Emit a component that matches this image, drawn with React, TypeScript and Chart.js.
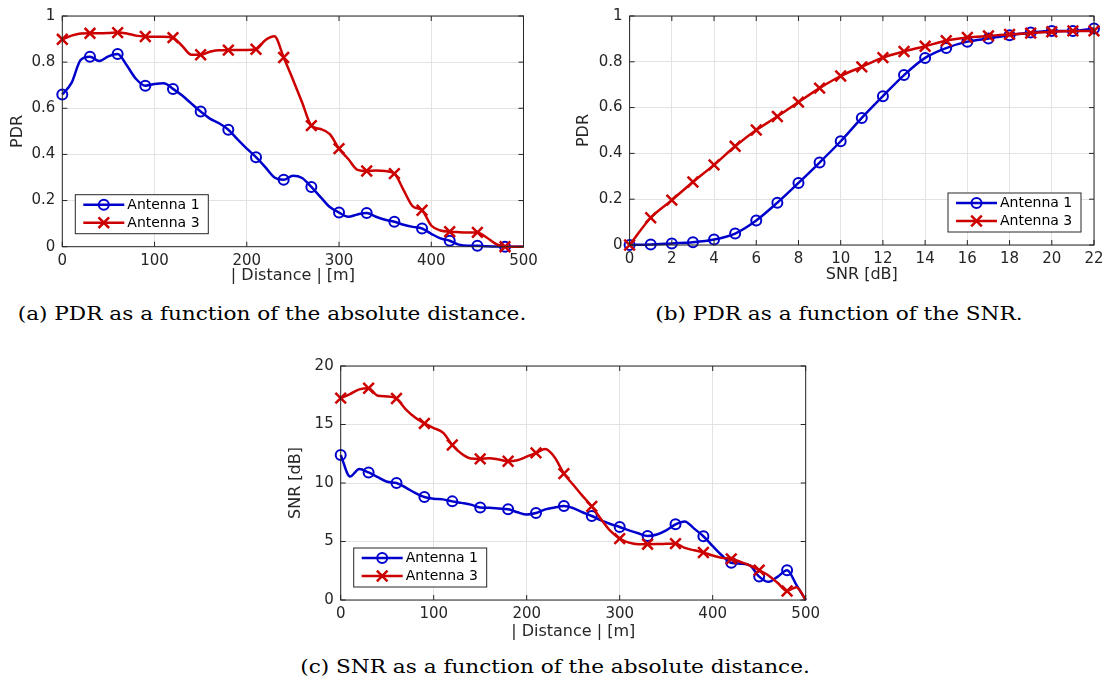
import React, { useEffect, useRef } from 'react';
import { Chart, registerables } from 'chart.js';

Chart.register(...registerables);

const BLUE = '#0000cd';
const RED = '#cc0000';
const AXIS = '#262626';
const GRID = '#e3e3e3';
const SANS = '"DejaVu Sans", sans-serif';

// ---------- data ----------
const distanceM = [0, 10, 20, 30, 40, 50, 60, 70, 80, 90, 100, 110, 120, 130, 140, 150, 160, 170, 180, 190, 200, 210, 220, 230, 240, 250, 260, 270, 280, 290, 300, 310, 320, 330, 340, 350, 360, 370, 380, 390, 400, 410, 420, 430, 440, 450, 460, 470, 480, 490, 500];
const markerDistances = [0, 30, 60, 90, 120, 150, 180, 210, 240, 270, 300, 330, 360, 390, 420, 450, 480];

const pdrDistAnt1 = [0.66, 0.71, 0.81, 0.823, 0.805, 0.825, 0.835, 0.785, 0.727, 0.698, 0.705, 0.708, 0.684, 0.655, 0.62, 0.586, 0.555, 0.535, 0.507, 0.465, 0.425, 0.388, 0.345, 0.3, 0.29, 0.308, 0.298, 0.259, 0.215, 0.172, 0.148, 0.13, 0.14, 0.146, 0.13, 0.117, 0.108, 0.095, 0.086, 0.079, 0.056, 0.036, 0.026, 0.009, 0.004, 0.004, 0.002, 0.001, 0, 0, 0];
const pdrDistAnt3 = [0.899, 0.915, 0.924, 0.925, 0.925, 0.926, 0.928, 0.924, 0.915, 0.911, 0.91, 0.91, 0.906, 0.87, 0.832, 0.832, 0.845, 0.852, 0.852, 0.853, 0.853, 0.856, 0.895, 0.912, 0.82, 0.725, 0.625, 0.525, 0.51, 0.488, 0.425, 0.38, 0.333, 0.328, 0.33, 0.328, 0.317, 0.245, 0.175, 0.158, 0.092, 0.07, 0.065, 0.063, 0.062, 0.062, 0.04, 0.012, 0, 0, 0];

const snrDb = [0, 1, 2, 3, 4, 5, 6, 7, 8, 9, 10, 11, 12, 13, 14, 15, 16, 17, 18, 19, 20, 21, 22];
const pdrSnrAnt1 = [0, 0.002, 0.007, 0.012, 0.024, 0.05, 0.107, 0.185, 0.271, 0.36, 0.453, 0.555, 0.65, 0.742, 0.817, 0.86, 0.888, 0.902, 0.916, 0.928, 0.935, 0.935, 0.945];
const pdrSnrAnt3 = [0, 0.119, 0.196, 0.275, 0.35, 0.431, 0.502, 0.561, 0.624, 0.685, 0.738, 0.778, 0.818, 0.845, 0.868, 0.892, 0.906, 0.913, 0.92, 0.925, 0.931, 0.935, 0.935];

const snrDistAnt1 = [12.4, 10.55, 11.2, 10.9, 10.5, 10.1, 10.0, 9.6, 9.15, 8.8, 8.65, 8.6, 8.43, 8.3, 8.15, 7.9, 7.88, 7.82, 7.75, 7.5, 7.3, 7.43, 7.75, 7.9, 8.03, 7.85, 7.5, 7.18, 6.8, 6.5, 6.24, 5.95, 5.7, 5.47, 5.6, 5.95, 6.47, 6.72, 6.1, 5.45, 4.6, 3.8, 3.18, 3.1, 2.95, 2.0, 1.55, 2.0, 2.55, 1.3, 0];
const snrDistAnt3 = [17.25, 17.6, 18.0, 18.1, 17.45, 17.4, 17.22, 16.3, 15.6, 15.09, 14.7, 14.3, 13.25, 12.5, 12.1, 12.06, 12.12, 12.0, 11.86, 11.95, 12.25, 12.57, 12.9, 12.2, 10.8, 9.85, 8.9, 8.0, 6.9, 5.9, 5.25, 4.9, 4.77, 4.77, 4.78, 4.8, 4.82, 4.45, 4.25, 4.06, 3.8, 3.6, 3.52, 3.25, 2.95, 2.55, 2.1, 1.45, 0.77, 1.1, 0];

const pdrTicks = [0, 0.2, 0.4, 0.6, 0.8, 1];
const distanceTicks = [0, 100, 200, 300, 400, 500];
const snrAxisTicks = [0, 2, 4, 6, 8, 10, 12, 14, 16, 18, 20, 22];
const snrValueTicks = [0, 5, 10, 15, 20];

const seriesNames = ['Antenna 1', 'Antenna 3'];

// ---------- helpers ----------
function drawMarker(ctx: CanvasRenderingContext2D, style: string, x: number, y: number, r: number, color: string, lw: number) {
  ctx.save();
  ctx.strokeStyle = color;
  ctx.lineWidth = lw;
  ctx.beginPath();
  if (style === 'circle') {
    ctx.arc(x, y, r, 0, Math.PI * 2);
  } else {
    const o = r * Math.SQRT1_2;
    ctx.moveTo(x - o, y - o); ctx.lineTo(x + o, y + o);
    ctx.moveTo(x - o, y + o); ctx.lineTo(x + o, y - o);
  }
  ctx.stroke();
  ctx.restore();
}

const matlabPlugin = {
  id: 'matlab',
  afterDatasetsDraw(chart: any) {
    const { ctx, chartArea: a, scales } = chart;
    ctx.save();
    ctx.strokeStyle = AXIS;
    ctx.lineWidth = 1;
    const tl = 5;
    ctx.beginPath();
    scales.x.ticks.forEach((t: any) => {
      const px = scales.x.getPixelForValue(t.value);
      ctx.moveTo(px, a.bottom); ctx.lineTo(px, a.bottom - tl);
      ctx.moveTo(px, a.top); ctx.lineTo(px, a.top + tl);
    });
    scales.y.ticks.forEach((t: any) => {
      const py = scales.y.getPixelForValue(t.value);
      ctx.moveTo(a.left, py); ctx.lineTo(a.left + tl, py);
      ctx.moveTo(a.right, py); ctx.lineTo(a.right - tl, py);
    });
    ctx.stroke();
    ctx.strokeRect(a.left, a.top, a.right - a.left, a.bottom - a.top);
    ctx.restore();
  },
  afterDraw(chart: any, _args: any, opts: any) {
    const { ctx, chartArea: a } = chart;
    const w = 133, h = 39, inset = 13;
    const x = opts.corner === 'br' ? a.right - inset - w : a.left + inset;
    const y = a.bottom - inset - h;
    ctx.save();
    ctx.fillStyle = '#ffffff';
    ctx.fillRect(x, y, w, h);
    ctx.strokeStyle = AXIS;
    ctx.lineWidth = 1;
    ctx.strokeRect(x, y, w, h);
    ctx.font = '14px ' + SANS;
    ctx.textBaseline = 'middle';
    ctx.textAlign = 'left';
    chart.data.datasets.forEach((ds: any, i: number) => {
      const ry = y + 10 + i * 18;
      ctx.strokeStyle = ds.borderColor;
      ctx.lineWidth = ds.borderWidth;
      ctx.beginPath();
      ctx.moveTo(x + 8, ry); ctx.lineTo(x + 49, ry);
      ctx.stroke();
      drawMarker(ctx, ds.pointStyle, x + 28.5, ry, ds.pointStyle === 'circle' ? 5 : 7.5, ds.borderColor, ds.pointBorderWidth);
      ctx.fillStyle = '#000000';
      ctx.fillText(ds.label, x + 52, ry + 0.5);
    });
    ctx.restore();
  },
};

type Area = { l: number; t: number; r: number; b: number };

type PlotProps = {
  left: number; top: number; width: number; height: number;
  area: Area;
  xs: number[]; ys1: number[]; ys3: number[];
  markers: number[] | null;
  xMin: number; xMax: number; xTicks: number[];
  yMin: number; yMax: number; yTicks: number[];
  xTitle: string; yTitle: string;
  yTitlePad: number; xTitlePad: number;
  corner: 'bl' | 'br';
};

function Plot(p: PlotProps) {
  const ref = useRef<HTMLCanvasElement | null>(null);
  useEffect(() => {
    if (!ref.current) return;
    const isMarked = (x: number) => (p.markers ? p.markers.includes(x) : true);
    const mk = (ys: number[], name: string, color: string, style: string, r: number, lw: number, order: number) => ({
      label: name,
      data: p.xs.map((x, i) => ({ x, y: ys[i] })),
      borderColor: color,
      backgroundColor: color,
      borderWidth: 2.5,
      pointStyle: style,
      pointRadius: (c: any) => (c.raw && isMarked(c.raw.x) ? r : 0),
      pointHoverRadius: 0,
      pointBorderColor: color,
      pointBackgroundColor: 'rgba(0,0,0,0)',
      pointBorderWidth: lw,
      cubicInterpolationMode: 'monotone',
      clip: false,
      order,
    });
    const tickFont = { family: SANS, size: 15 };
    const titleFont = { family: SANS, size: 16 };
    const chart = new Chart(ref.current, {
      type: 'line',
      data: {
        datasets: [
          mk(p.ys1, seriesNames[0], BLUE, 'circle', 5, 2, 1),
          mk(p.ys3, seriesNames[1], RED, 'crossRot', 7.5, 2.5, 0),
        ] as any,
      },
      options: {
        responsive: false,
        animation: false,
        events: [],
        layout: { padding: { left: 0, top: p.area.t, right: p.width - p.area.r, bottom: 0 } },
        plugins: {
          legend: { display: false },
          tooltip: { enabled: false },
          matlab: { corner: p.corner },
        } as any,
        scales: {
          x: {
            type: 'linear',
            min: p.xMin, max: p.xMax,
            afterBuildTicks: (s: any) => { s.ticks = p.xTicks.map((v) => ({ value: v })); },
            afterFit: (s: any) => { s.height = p.height - p.area.b; },
            ticks: { font: tickFont, color: AXIS, padding: 5, maxRotation: 0, autoSkip: false, callback: (v: any) => String(v) },
            grid: { color: GRID, drawTicks: false, lineWidth: 1 },
            border: { display: false },
            title: { display: true, text: p.xTitle, font: titleFont, color: AXIS, padding: { top: 0, bottom: p.xTitlePad } },
          },
          y: {
            type: 'linear',
            min: p.yMin, max: p.yMax,
            afterBuildTicks: (s: any) => { s.ticks = p.yTicks.map((v) => ({ value: v })); },
            afterFit: (s: any) => { s.width = p.area.l; },
            ticks: { font: tickFont, color: AXIS, padding: 7, autoSkip: false, callback: (v: any) => String(v) },
            grid: { color: GRID, drawTicks: false, lineWidth: 1 },
            border: { display: false },
            title: { display: true, text: p.yTitle, font: titleFont, color: AXIS, padding: { top: p.yTitlePad, bottom: 0 } },
          },
        },
      } as any,
      plugins: [matlabPlugin as any],
    });
    return () => chart.destroy();
  }, []);
  return (
    <canvas
      ref={ref}
      width={p.width}
      height={p.height}
      style={{ position: 'absolute', left: p.left, top: p.top, width: p.width, height: p.height }}
    />
  );
}

const captionStyle = (cx: number, cy: number): React.CSSProperties => ({
  position: 'absolute',
  left: cx - 400,
  width: 800,
  top: cy - 11,
  height: 22,
  lineHeight: '22px',
  textAlign: 'center',
  fontFamily: '"DejaVu Serif", serif',
  fontSize: 18,
  color: '#000',
  whiteSpace: 'nowrap',
  transform: 'scaleX(1.2)',
  transformOrigin: 'center',
});

export default function App() {
  return (
    <div style={{ position: 'absolute', left: 0, top: 0, width: 1109, height: 682, background: '#fff', overflow: 'hidden' }}>
      <Plot
        left={0} top={0} width={545} height={290}
        area={{ l: 62.3, t: 15, r: 523.5, b: 246.7 }}
        xs={distanceM} ys1={pdrDistAnt1} ys3={pdrDistAnt3} markers={markerDistances}
        xMin={0} xMax={500} xTicks={distanceTicks}
        yMin={0} yMax={1} yTicks={pdrTicks}
        xTitle="| Distance | [m]" yTitle="PDR" yTitlePad={8} xTitlePad={5}
        corner="bl"
      />
      <Plot
        left={560} top={0} width={549} height={290}
        area={{ l: 69.6, t: 11.7, r: 534, b: 245 }}
        xs={snrDb} ys1={pdrSnrAnt1} ys3={pdrSnrAnt3} markers={null}
        xMin={0} xMax={22} xTicks={snrAxisTicks}
        yMin={0} yMax={1} yTicks={pdrTicks}
        xTitle="SNR [dB]" yTitle="PDR" yTitlePad={14} xTitlePad={6}
        corner="br"
      />
      <Plot
        left={280} top={350} width={545} height={295}
        area={{ l: 60.7, t: 15, r: 526, b: 250 }}
        xs={distanceM} ys1={snrDistAnt1} ys3={snrDistAnt3} markers={markerDistances}
        xMin={0} xMax={500} xTicks={distanceTicks}
        yMin={0} yMax={20} yTicks={snrValueTicks}
        xTitle="| Distance | [m]" yTitle="SNR [dB]" yTitlePad={6.5} xTitlePad={3.5}
        corner="bl"
      />
      <div style={captionStyle(272, 314)}>(a) PDR as a function of the absolute distance.</div>
      <div style={captionStyle(839, 314)}>(b) PDR as a function of the SNR.</div>
      <div style={captionStyle(555, 667)}>(c) SNR as a function of the absolute distance.</div>
    </div>
  );
}
